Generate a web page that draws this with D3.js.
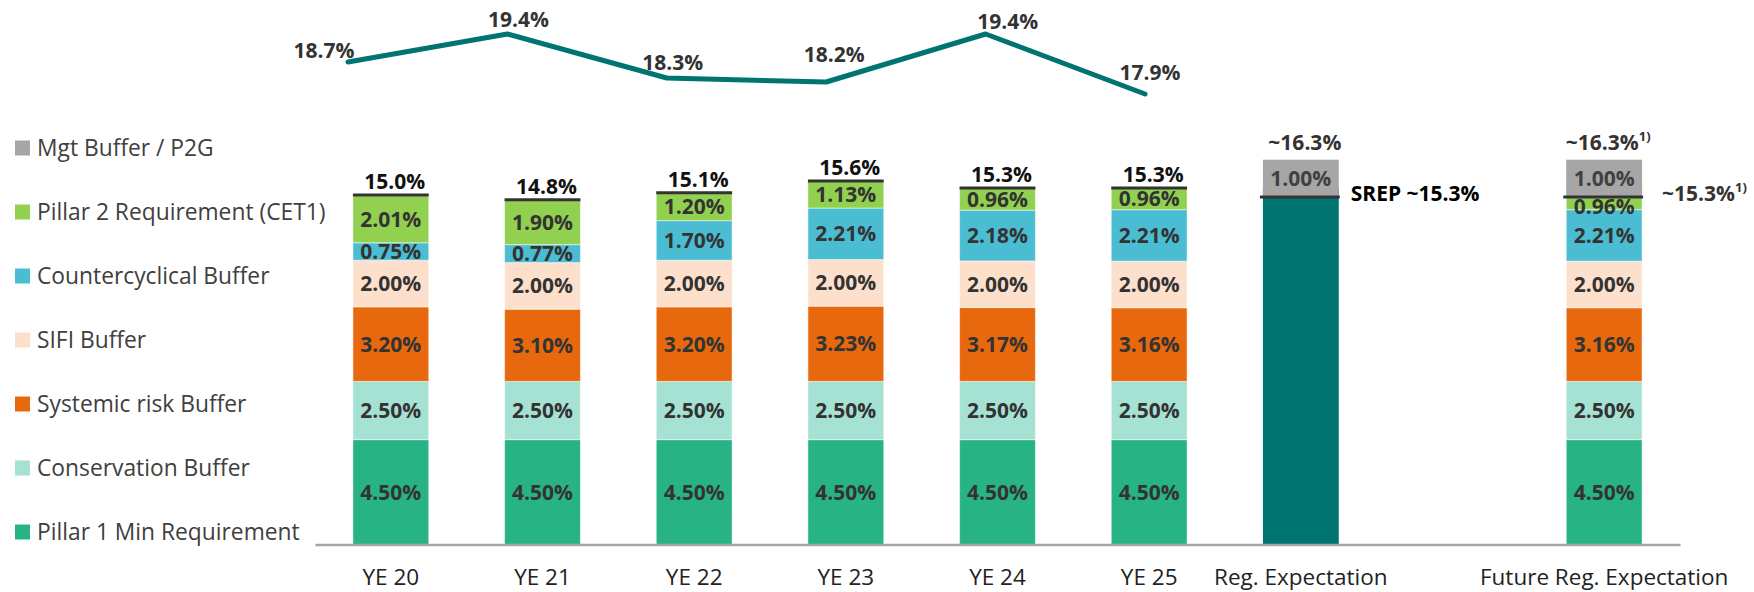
<!DOCTYPE html>
<html><head><meta charset="utf-8">
<script src="https://cdn.jsdelivr.net/npm/d3@7"></script>
<style>
body{margin:0;background:#fff}
svg{display:block;font-family:'Open Sans','Noto Sans',sans-serif}
</style>
</head><body>
<svg id="chart" width="1754" height="592"></svg>
<script>
// ---------- data ----------
const categories = ["YE 20","YE 21","YE 22","YE 23","YE 24","YE 25","Reg. Expectation","gap","Future Reg. Expectation"];
const pillar1      = [4.50,4.50,4.50,4.50,4.50,4.50,null,null,4.50];
const conservation = [2.50,2.50,2.50,2.50,2.50,2.50,null,null,2.50];
const systemicRisk = [3.20,3.10,3.20,3.23,3.17,3.16,null,null,3.16];
const sifi         = [2.00,2.00,2.00,2.00,2.00,2.00,null,null,2.00];
const countercyc   = [0.75,0.77,1.70,2.21,2.18,2.21,null,null,2.21];
const pillar2      = [2.01,1.90,1.20,1.13,0.96,0.96,null,null,0.96];
const mgtBuffer    = [null,null,null,null,null,null,1.00,null,1.00];
const srepTotal    = [null,null,null,null,null,null,15.3,null,15.3];
const totals       = [15.0,14.8,15.1,15.6,15.3,15.3,16.3,null,16.3];
const totalLabels  = ["15.0%","14.8%","15.1%","15.6%","15.3%","15.3%","~16.3%","","~16.3%"];
const totalNotes   = ["","","","","","","","","1)"];
const srepLabels   = ["","","","","","","SREP ~15.3%","","~15.3%"];
const srepNotes    = ["","","","","","","","","1)"];

const lineCategories = ["YE 20","YE 21","YE 22","YE 23","YE 24","YE 25"];
const cet1Ratio      = [18.7,19.4,18.3,18.2,19.4,17.9];

const legendItems = ["Mgt Buffer / P2G","Pillar 2 Requirement (CET1)","Countercyclical Buffer","SIFI Buffer","Systemic risk Buffer","Conservation Buffer","Pillar 1 Min Requirement"];

// ---------- styles ----------
const colors = {
  pillar1:"#27B383", conservation:"#A6E2D3", systemicRisk:"#E8690D", sifi:"#FDE0CC",
  countercyc:"#4BBDD3", pillar2:"#92D050", mgt:"#A6A6A6", srep:"#007470", line:"#007470"
};
const legendColors = [colors.mgt,colors.pillar2,colors.countercyc,colors.sifi,colors.systemicRisk,colors.conservation,colors.pillar1];
const lineLabelNudge = [[-24,-4],[11,-7],[6,-8],[8,-20],[22,-5],[5,-14]];

const svg = d3.select("#chart");
const x = d3.scaleBand().domain(categories).range([315,1680]).paddingInner(0.5).paddingOuter(0.25);
const y = d3.scaleLinear().domain([0,20]).range([544.5,78.5]);
const xl = d3.scalePoint().domain(lineCategories).range([348,1145]);
const yl = d3.scaleLinear().domain([17,20]).range([130,10]);

const keys = ["pillar1","conservation","systemicRisk","sifi","countercyc","pillar2"];
const src = {pillar1,conservation,systemicRisk,sifi,countercyc,pillar2};
const rows = categories.map((c,i)=>{const r={cat:c,i}; keys.forEach(k=>r[k]=src[k][i]||0); return r;});
const stacked = d3.stack().keys(keys)(rows);

const boxBelow = 9, boxAbove = 5; // mgt box visual padding
const coverBottom = i => mgtBuffer[i] ? y(srepTotal[i]) + boxBelow : -Infinity;

// reg expectation teal bar
const gReg = svg.append("g");
categories.forEach((c,i)=>{
  if (srepTotal[i] && pillar1[i]==null){
    gReg.append("rect").attr("x",x(c)).attr("width",x.bandwidth())
      .attr("y",y(srepTotal[i])).attr("height",y(0)-y(srepTotal[i])).attr("fill",colors.srep);
  }
});

// stacked segments
const gBars = svg.append("g");
stacked.forEach(s=>{
  s.forEach((d,i)=>{
    if (d[1]-d[0] <= 0) return;
    gBars.append("rect").attr("x",x(categories[i])).attr("width",x.bandwidth())
      .attr("y",y(d[1])).attr("height",y(d[0])-y(d[1]))
      .attr("fill",colors[s.key]).attr("stroke","#fff").attr("stroke-width",1).attr("stroke-opacity",0.5);
  });
});

// mgt boxes
categories.forEach((c,i)=>{
  if (!mgtBuffer[i]) return;
  const top = y(srepTotal[i]+mgtBuffer[i]) - boxAbove, bot = y(srepTotal[i]) + boxBelow;
  svg.append("rect").attr("x",x(c)).attr("width",x.bandwidth()).attr("y",top).attr("height",bot-top).attr("fill",colors.mgt);
  svg.append("text").attr("x",x(c)+x.bandwidth()/2).attr("y",(top+bot)/2).attr("dy","0.35em")
    .attr("text-anchor","middle").attr("font-size",21).attr("font-weight",700).attr("fill","#404040")
    .text(d3.format(".2f")(mgtBuffer[i])+"%");
  svg.append("line").attr("x1",x(c)-3).attr("x2",x(c)+x.bandwidth()+1).attr("y1",bot).attr("y2",bot)
    .attr("stroke","#333").attr("stroke-width",3);
  const t = svg.append("text").attr("x",x(c)+x.bandwidth()+(pillar1[i]==null?12:20)).attr("y",bot+4)
    .attr("font-size",21).attr("font-weight",700).attr("fill",pillar1[i]==null?"#000":"#333").text(srepLabels[i]);
  if (srepNotes[i]) t.append("tspan").attr("font-size",13).attr("dy",-9).text(srepNotes[i]);
});

// segment labels
stacked.forEach(s=>{
  s.forEach((d,i)=>{
    const v = d[1]-d[0];
    if (v <= 0) return;
    const top = Math.max(y(d[1]), coverBottom(i)), bot = y(d[0]);
    svg.append("text").attr("x",x(categories[i])+x.bandwidth()/2).attr("y",(top+bot)/2 + (mgtBuffer[i] && y(d[1]) < coverBottom(i) ? 3 : 0)).attr("dy","0.36em")
      .attr("text-anchor","middle").attr("font-size",21).attr("font-weight",700).attr("fill","#333")
      .text(d3.format(".2f")(v)+"%");
  });
});

// total lines + labels
categories.forEach((c,i)=>{
  if (totals[i]==null) return;
  let base;
  if (mgtBuffer[i]) { base = y(srepTotal[i]+mgtBuffer[i]) - boxAbove - 10; }
  else {
    svg.append("line").attr("x1",x(c)).attr("x2",x(c)+x.bandwidth()).attr("y1",y(totals[i])).attr("y2",y(totals[i]))
      .attr("stroke","#333").attr("stroke-width",3);
    base = y(totals[i]) - 6;
  }
  const t = svg.append("text").attr("x",x(c)+x.bandwidth()/2+4).attr("y",base).attr("text-anchor","middle")
    .attr("font-size",21).attr("font-weight",700).attr("fill",mgtBuffer[i]?"#333":"#111").text(totalLabels[i]);
  if (totalNotes[i]) t.append("tspan").attr("font-size",13).attr("dy",-9).text(totalNotes[i]);
});

// x axis
const ax = svg.append("g").attr("transform","translate(0,544.5)")
  .call(d3.axisBottom(x).tickSize(0).tickSizeOuter(0).tickPadding(25).tickFormat(d=>d==="gap"?"":d));
ax.select(".domain").attr("stroke","#A6A6A6").attr("stroke-width",2.5);
ax.selectAll("text").attr("font-size",22.5).attr("fill","#222").attr("font-family","'Open Sans',sans-serif");

// line
svg.append("path").datum(cet1Ratio)
  .attr("d",d3.line().x((d,i)=>xl(lineCategories[i])).y(d=>yl(d)))
  .attr("fill","none").attr("stroke",colors.line).attr("stroke-width",5)
  .attr("stroke-linecap","round").attr("stroke-linejoin","round");
cet1Ratio.forEach((v,i)=>{
  svg.append("text").attr("x",xl(lineCategories[i])+lineLabelNudge[i][0]).attr("y",yl(v)+lineLabelNudge[i][1])
    .attr("text-anchor","middle").attr("font-size",21).attr("font-weight",700).attr("fill","#333")
    .text(d3.format(".1f")(v)+"%");
});

// legend
const lg = svg.append("g");
legendItems.forEach((name,i)=>{
  const cy = 148 + i*64;
  lg.append("rect").attr("x",15).attr("y",cy-7.5).attr("width",15).attr("height",15).attr("fill",legendColors[i]);
  lg.append("text").attr("x",37).attr("y",cy).attr("dy","0.35em").attr("font-size",22.8).attr("fill","#404040").text(name);
});
</script>
</body></html>
